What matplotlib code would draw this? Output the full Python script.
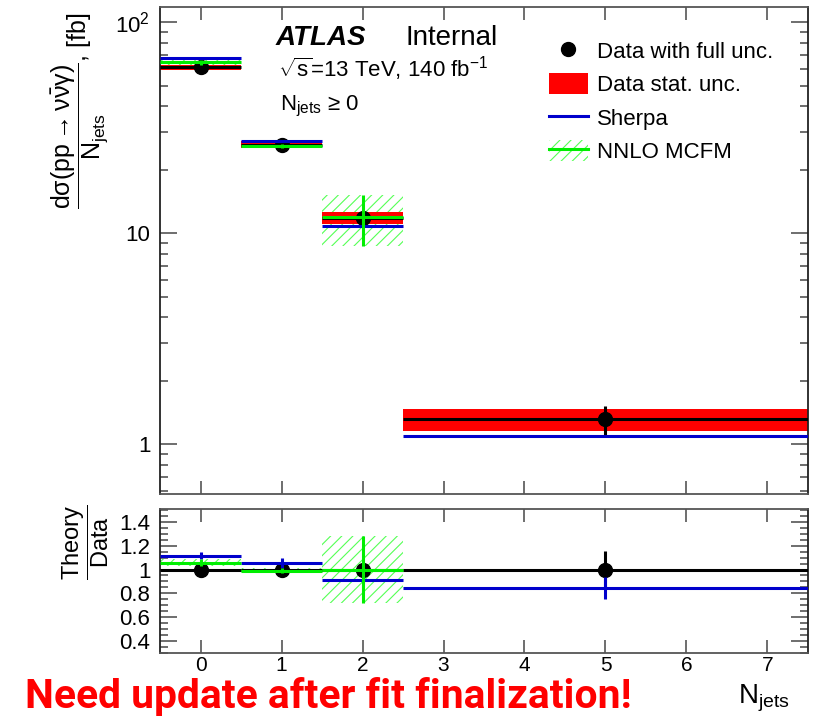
import numpy as np
import matplotlib
matplotlib.use("Agg")
import matplotlib.pyplot as plt
from matplotlib.patches import Patch
from matplotlib.lines import Line2D
from matplotlib.ticker import FixedLocator, MultipleLocator, LogLocator, NullFormatter

# --- values ---
bin_lo = [-0.5, 0.5, 1.5, 2.5]
bin_hi = [0.5, 1.5, 2.5, 7.5]
njets = [0, 1, 2, 5]

data_xs = [61.0, 26.2, 11.8, 1.31]
data_stat = [1.8, 1.0, 0.75, 0.16]
data_full = [2.0, 1.0, 0.9, 0.2]
sherpa_xs = [67.5, 27.4, 10.8, 1.09]
nnlo_xs = [64.4, 25.8, 11.9]
nnlo_unc = [2.0, 0.6, 3.2]

ratio_data_err = [0.02, 0.02, 0.03, 0.16]
ratio_sherpa = [1.117, 1.055, 0.913, 0.843]
ratio_sherpa_err = [0.03, 0.04, 0.03, 0.095]
ratio_nnlo = [1.058, 0.99, 1.0]
ratio_nnlo_err = [0.03, 0.02, 0.28]

main_yticks = [1, 10, 100]
main_yticklabels = ["1", "10", r"10$^{2}$"]
ratio_yticks = [0.4, 0.6, 0.8, 1.0, 1.2, 1.4]
ratio_yticklabels = ["0.4", "0.6", "0.8", "1", "1.2", "1.4"]
xticks = [0, 1, 2, 3, 4, 5, 6, 7]

RED = "#ff0000"
BLUE = "#0000cc"
GREEN = "#00ee00"
HATCH = "#55ff55"
FRAME = "#555555"
LW = 2.2

plt.rcParams["font.family"] = ["Liberation Sans", "DejaVu Sans"]
plt.rcParams["mathtext.fontset"] = "custom"
plt.rcParams["mathtext.rm"] = "Liberation Sans"
plt.rcParams["mathtext.it"] = "Liberation Sans"
plt.rcParams["mathtext.bf"] = "Liberation Sans:bold"
plt.rcParams["hatch.linewidth"] = 0.8


def draw_bins(ax, xs, lo, hi, vals, errs, color, marker=False, zorder=3):
  vals = np.asarray(vals)
  errs = np.asarray(errs)
  n = len(vals)
  ax.hlines(vals, lo[:n], hi[:n], color=color, lw=LW, zorder=zorder)
  ax.vlines(xs[:n], vals - errs, vals + errs, color=color, lw=LW, zorder=zorder)
  if marker:
    ax.plot(xs[:n], vals, "o", color=color, ms=10, zorder=zorder + 0.5)


def draw_hatch(ax, lo, hi, vals, errs, zorder=1):
  n = len(vals)
  lo = np.asarray(lo[:n])
  hi = np.asarray(hi[:n])
  vals = np.asarray(vals)
  errs = np.asarray(errs)
  ax.bar(lo, 2 * errs, width=hi - lo, bottom=vals - errs, align="edge",
         facecolor="none", edgecolor=HATCH, hatch="///", linewidth=0, zorder=zorder)


def style_axes(ax):
  for side, sp in ax.spines.items():
    sp.set_color(FRAME if side in ("top", "bottom") else "#222222")
    sp.set_linewidth(1.3)
  ax.tick_params(which="both", direction="in", top=True, right=True, color=FRAME, width=1.2)
  ax.tick_params(axis="y", which="major", length=12, labelsize=16, pad=7)
  ax.tick_params(axis="y", which="minor", length=6)
  ax.tick_params(axis="x", which="major", length=9.5, labelsize=15, pad=2)
  ax.set_xlim(-0.5, 7.5)
  ax.xaxis.set_major_locator(FixedLocator(xticks))


fig = plt.figure(figsize=(8.15, 7.16), dpi=100)
ax = fig.add_axes([0.19632, 0.31006, 0.79509, 0.68016])
rax = fig.add_axes([0.19632, 0.08799, 0.79509, 0.20112])

# ---- main panel ----
d = np.asarray(data_xs)
s = np.asarray(data_stat)
draw_hatch(ax, bin_lo, bin_hi, nnlo_xs, nnlo_unc, zorder=1)
ax.bar(bin_lo, 2 * s, width=np.asarray(bin_hi) - np.asarray(bin_lo), bottom=d - s,
       align="edge", color=RED, linewidth=0, zorder=2)
draw_bins(ax, njets, bin_lo, bin_hi, data_xs, data_full, "black", marker=True, zorder=3)
draw_bins(ax, njets, bin_lo, bin_hi, sherpa_xs, [0] * 4, BLUE, zorder=5)
draw_bins(ax, njets, bin_lo, bin_hi, nnlo_xs, nnlo_unc, GREEN, zorder=6)

ax.set_yscale("log")
ax.set_ylim(0.58, 118)
style_axes(ax)
ax.yaxis.set_major_locator(FixedLocator(main_yticks))
ax.set_yticklabels(main_yticklabels)
ax.yaxis.set_minor_locator(LogLocator(base=10, subs=np.arange(2, 10)))
ax.yaxis.set_minor_formatter(NullFormatter())
ax.set_xticklabels([])

# ---- ratio panel ----
draw_hatch(rax, bin_lo, bin_hi, ratio_nnlo, ratio_nnlo_err, zorder=1)
draw_bins(rax, njets, bin_lo, bin_hi, [1.0] * 4, ratio_data_err, "black", marker=True, zorder=3)
draw_bins(rax, njets, bin_lo, bin_hi, ratio_sherpa, ratio_sherpa_err, BLUE, zorder=5)
draw_bins(rax, njets, bin_lo, bin_hi, ratio_nnlo, ratio_nnlo_err, GREEN, zorder=6)
rax.set_ylim(0.297, 1.51)
style_axes(rax)
rax.yaxis.set_major_locator(FixedLocator(ratio_yticks))
rax.set_yticklabels(ratio_yticklabels)
rax.yaxis.set_minor_locator(MultipleLocator(0.05))
rax.set_xticklabels([str(t) for t in xticks])

# ---- axis titles ----
fig.text(80 / 815, 1 - 12 / 716,
         r"$\dfrac{\mathrm{d}\sigma(\mathrm{pp}\rightarrow\nu\bar{\nu}\gamma)}{\mathrm{N_{jets}}}$, [fb]",
         rotation=90, ha="center", va="top", fontsize=18)
fig.text(86 / 815, 1 - 504 / 716, r"$\dfrac{\mathrm{Theory}}{\mathrm{Data}}$",
         rotation=90, ha="center", va="top", fontsize=17)
fig.text(790 / 815, 1 - 703 / 716, r"N$_{\mathrm{jets}}$", ha="right", va="baseline", fontsize=20)

# ---- labels ----
fig.text(276 / 815, 1 - 45 / 716, "ATLAS", fontsize=20, fontweight="bold", style="italic",
         va="baseline")
fig.text(405 / 815, 1 - 45 / 716, "Internal", fontsize=20, va="baseline")
fig.text(278 / 815, 1 - 77 / 716, r"$\sqrt{\mathrm{s}}$=13 TeV, 140 fb$^{-1}$", fontsize=16,
         va="baseline")
fig.text(280 / 815, 1 - 110 / 716, r"N$_{\mathrm{jets}}$ ≥ 0", fontsize=16, va="baseline")

# ---- legend ----
handles = [
  Line2D([], [], marker="o", color="black", linestyle="none", markersize=10),
  Patch(facecolor=RED, edgecolor="none"),
  Line2D([], [], color=BLUE, lw=LW),
  (Patch(facecolor="none", edgecolor=HATCH, hatch="///", linewidth=0),
   Line2D([], [], color=GREEN, lw=LW)),
]
labels = ["Data with full unc.", "Data stat. unc.", "Sherpa", "NNLO MCFM"]
fig.legend(handles, labels, loc="upper left", bbox_to_anchor=(549 / 815, 1 - 40 / 716),
           frameon=False, fontsize=16, handlelength=1.75, handleheight=1.05,
           handletextpad=0.4, labelspacing=0.47, borderpad=0, borderaxespad=0)

# ---- warning banner (sized to roughly the reference width) ----
warn = fig.text(25 / 815, 1 - 708 / 716, "Need update after fit finalization!", color=RED,
                fontsize=26, fontweight="bold", family="Roboto", va="baseline")
fig.canvas.draw()
w = warn.get_window_extent().width
warn.set_fontsize(26 * 605 / w)

fig.savefig("out.png", dpi=100)
